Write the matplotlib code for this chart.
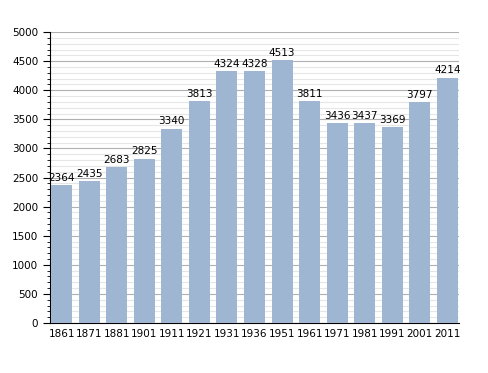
import numpy as np
import matplotlib.pyplot as plt
from matplotlib.ticker import MultipleLocator

years = ['1861', '1871', '1881', '1901', '1911', '1921', '1931', '1936',
         '1951', '1961', '1971', '1981', '1991', '2001', '2011']
population = [2364, 2435, 2683, 2825, 3340, 3813, 4324, 4328,
              4513, 3811, 3436, 3437, 3369, 3797, 4214]

fig = plt.figure(figsize=(4.88, 3.73), dpi=100)
ax = fig.add_axes([0.1025, 0.134, 0.838, 0.78])

x = np.arange(len(years))
ax.bar(x, population, width=0.76, color='#9eb6d1', zorder=3)
for xi, v in zip(x, population):
    ax.text(xi, v + 40, str(v), ha='center', va='bottom', fontsize=7.5, zorder=4)

ax.set_xlim(-0.42, len(years) - 0.58)
ax.set_ylim(0, 5000)
ax.yaxis.set_major_locator(MultipleLocator(500))
ax.yaxis.set_minor_locator(MultipleLocator(100))
ax.grid(axis='y', which='major', color='#b0b0b0', lw=0.8, zorder=0)
ax.grid(axis='y', which='minor', color='#e6e6e6', lw=0.8, zorder=0)
ax.set_xticks(x)
ax.set_xticklabels(years)
ax.tick_params(axis='x', length=0, labelsize=7.5, pad=4)
ax.tick_params(axis='y', which='major', length=5, labelsize=7.5, direction='out')
ax.tick_params(axis='y', which='minor', length=2.5, direction='out')
for s in ['top', 'right']:
    ax.spines[s].set_visible(False)

fig.savefig('out.png', dpi=100)
